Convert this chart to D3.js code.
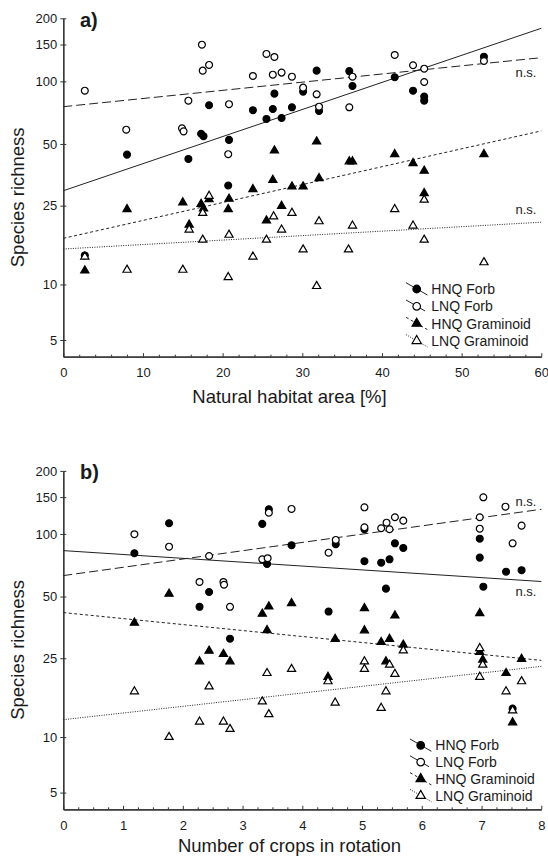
<!DOCTYPE html>
<meta charset="utf-8">
<style>
body { margin: 0; background: #fff; }
svg text { font-family: "Liberation Sans", Arial, sans-serif; fill: #1a1a1a; }
.axis path, .axis line { stroke: #333; }
</style>
<svg width="548" height="857"></svg>
<script src="https://d3js.org/d3.v7.min.js"></script>
<script>

var seriesNames = ["HNQ Forb", "LNQ Forb", "HNQ Graminoid", "LNQ Graminoid"];
var yTicks = [5, 10, 25, 50, 100, 150, 200];

// a) natural habitat area [%] vs species richness
var areaHnqForb = [[2.7,14.1],[8.0,44.4],[15.7,42.3],[17.3,56],[17.6,54.5],[18.3,76.8],[20.8,52.3],[20.7,31.4],[23.8,72.7],[25.5,66],[26.3,73.7],[26.5,87.3],[27.4,66.7],[28.7,75.1],[30.1,89.3],[32.1,72.1],[31.8,112.5],[35.9,112],[36.3,95],[41.6,104.6],[43.9,90.2],[45.3,84.5],[45.3,80.8],[52.8,131.2]];
var areaLnqForb = [[2.7,90.2],[7.9,58.6],[14.9,59.5],[15.1,57.5],[15.7,80.8],[17.4,149.7],[17.5,112.5],[18.3,119.8],[20.8,77.7],[20.7,44.6],[23.8,106.1],[25.5,135.2],[26.5,130.8],[26.3,107.6],[27.4,110.1],[28.7,105.3],[30.1,93.3],[31.8,86.7],[32.1,75.6],[36.3,105.3],[35.9,75.1],[41.6,133.7],[43.9,119.4],[45.3,115],[45.3,99.3],[52.8,125.1]];
var areaHnqGram = [[2.7,11.8],[8.0,24.0],[15.0,25.9],[15.8,20.1],[17.3,25.5],[17.6,24.2],[18.3,26.9],[20.8,27.0],[20.7,24.0],[23.8,30.1],[25.5,21.1],[26.3,33.4],[26.5,46.4],[27.4,24.9],[28.7,31.0],[30.1,31.0],[31.8,51.3],[32.1,34.1],[35.9,41.1],[36.3,41.1],[41.6,44.6],[43.9,40.3],[45.3,37.0],[45.3,28.8],[52.8,44.6]];
var areaLnqGram = [[2.7,13.9],[8.0,11.9],[15.0,11.9],[15.8,19.0],[17.5,23.0],[17.5,16.9],[18.3,27.9],[20.8,17.9],[20.7,10.9],[23.8,13.9],[25.5,16.9],[26.4,22.1],[27.4,19.0],[28.7,23.0],[30.1,15.1],[32.1,20.9],[31.8,9.8],[35.8,15.1],[36.3,19.9],[41.6,24.0],[43.9,19.9],[45.3,26.7],[45.3,16.9],[52.8,13.0]];
// fitted lines: [x0, y0, x1, y1]
var areaFits = [[0,29.6,60,179.3],[0,75.6,60,129.8],[0,17.2,60,57.8],[0,15.2,60,20.7]];
var areaNs = [110.7, 23.9];

// b) number of crops in rotation vs species richness
var cropHnqForb = [[1.19,80.8],[1.77,112.5],[2.28,44.6],[2.44,52.6],[2.79,31.2],[3.33,111.7],[3.44,131.2],[3.41,71.8],[3.82,88.3],[4.56,89.3],[4.44,42.3],[5.04,74],[5.04,105.3],[5.32,72.8],[5.46,75.6],[5.55,90.2],[5.69,85.7],[5.40,54.6],[6.97,94.9],[6.97,77.0],[7.03,55.8],[7.41,65.9],[7.67,67],[7.52,14.0]];
var cropLnqForb = [[1.19,99.7],[1.77,86.9],[2.28,58.8],[2.44,78.4],[2.68,58.8],[2.69,57],[2.79,44.6],[3.33,75.6],[3.44,126.4],[3.42,76.5],[3.82,131.7],[4.56,93.6],[4.44,81.3],[5.04,134.1],[5.04,107.6],[5.32,106.5],[5.41,113.2],[5.46,105.3],[5.55,120.2],[5.69,115.8],[7.03,149.7],[6.97,120.2],[6.97,106],[7.40,135],[7.67,109.6],[7.52,90.2]];
var cropHnqGram = [[1.19,37.3],[1.77,51.5],[2.28,24.1],[2.44,27.2],[2.68,26.2],[2.79,24.1],[3.33,41.2],[3.44,44.7],[3.41,34.3],[3.82,46.4],[4.55,31.1],[4.43,20.2],[5.04,43.9],[5.04,34.2],[5.32,30.0],[5.46,31.1],[5.55,40.4],[5.40,24.1],[5.69,29.1],[6.97,41.5],[6.97,26.8],[7.02,24.6],[7.41,21.1],[7.67,24.8],[7.52,11.9]];
var cropLnqGram = [[1.19,17.1],[1.77,10.0],[2.28,12.0],[2.44,18.1],[2.68,12.0],[2.79,11.0],[3.33,15.2],[3.41,21.1],[3.44,13.1],[3.82,22.1],[4.55,15.0],[4.43,19.2],[5.04,24.1],[5.04,22.1],[5.46,23.2],[5.40,17.1],[5.32,14.1],[5.55,20.9],[5.69,27.3],[6.97,28.0],[7.02,23.2],[6.97,20.2],[7.41,17.1],[7.67,19.2],[7.52,13.7]];
var cropFits = [[0,83.2,8,59.1],[0,63.1,8,131.2],[0,41.8,8,24.4],[0,12.3,8,22.8]];
var cropNs = [143, 52.9];

var svg = d3.select("svg");

// marker + line look for each series
var look = [
  {shape: d3.symbolCircle, size: 37, fill: "#000", dash: null},
  {shape: d3.symbolCircle, size: 37, fill: "#fff", dash: "9,4"},
  {shape: d3.symbolTriangle, size: 29, fill: "#000", dash: "3,2.5"},
  {shape: d3.symbolTriangle, size: 29, fill: "#fff", dash: "1,1.4"}
];

function drawPanel(p) {
  var x = d3.scaleLinear().domain(p.xDomain).range([63.3, 541.3]);
  // y axis is log(y+1)
  var y = d3.scaleSymlog().constant(1).domain([4, 200]).range([p.top + 338.4, p.top]);
  var g = svg.append("g");

  // axes
  g.append("g").attr("class", "axis")
      .attr("transform", "translate(0," + y(4) + ")")
      .call(d3.axisBottom(x).tickValues(p.xMinor).tickSize(-2).tickSizeOuter(0).tickFormat(""));
  g.append("g").attr("class", "axis")
      .attr("transform", "translate(0," + y(4) + ")")
      .call(d3.axisBottom(x).tickValues(p.xMajor).tickSize(-3.5).tickSizeOuter(0).tickPadding(11))
      .selectAll("text").style("font-size", "13px");
  g.append("g").attr("class", "axis")
      .attr("transform", "translate(" + x(0) + ",0)")
      .call(d3.axisLeft(y).tickValues(yTicks).tickSize(-3).tickSizeOuter(0).tickFormat(""));
  g.append("g").attr("class", "axis")
      .attr("transform", "translate(" + x(0) + ",0)")
      .call(d3.axisLeft(y).tickValues(yTicks).tickSize(3).tickSizeOuter(0).tickPadding(3).tickFormat(d3.format("d")))
      .selectAll("text").style("font-size", "13px");
  g.selectAll(".axis .domain").attr("stroke-width", 1.2);

  // fitted lines
  g.selectAll("line.fit").data(p.fits).enter().append("line")
      .attr("class", "fit")
      .attr("x1", d => x(d[0])).attr("y1", d => y(d[1]))
      .attr("x2", d => x(d[2])).attr("y2", d => y(d[3]))
      .attr("stroke", "#222").attr("stroke-width", 1)
      .attr("stroke-dasharray", (d, i) => look[i].dash);

  // points
  p.series.forEach(function(s, i) {
    g.append("g").selectAll("path").data(s).enter().append("path")
        .attr("d", d3.symbol().type(look[i].shape).size(look[i].size))
        .attr("transform", d => "translate(" + x(d[0]) + "," + y(d[1]) + ")")
        .attr("fill", look[i].fill).attr("stroke", "#000").attr("stroke-width", 1.2);
  });

  // n.s. labels
  p.ns.forEach(function(v) {
    g.append("text").attr("x", 515.5).attr("y", y(v) + 4.5)
        .style("font-size", "13px").text("n.s.");
  });

  // panel letter
  g.append("text").attr("x", 80).attr("y", p.top + 8.5)
      .style("font-size", "20px").style("font-weight", "bold").text(p.letter);

  // axis titles
  g.append("text").attr("transform", "translate(23.5," + (p.top + 179) + ") rotate(-90)")
      .attr("text-anchor", "middle").style("font-size", "18.5px").text("Species richness");
  g.append("text").attr("x", 289.5).attr("y", y(4) + p.titleGap)
      .attr("text-anchor", "middle").style("font-size", "18.5px").text(p.xTitle);

  // legend
  var lg = g.append("g").attr("transform", "translate(" + p.legX + "," + p.legY + ")");
  seriesNames.forEach(function(name, i) {
    var row = lg.append("g").attr("transform", "translate(0," + i * p.legStep + ")");
    row.append("line").attr("x1", -10.7).attr("y1", -6.3).attr("x2", 10.7).attr("y2", 6)
        .attr("stroke", "#222").attr("stroke-width", 1).attr("stroke-dasharray", look[i].dash);
    row.append("path").attr("d", d3.symbol().type(look[i].shape).size(look[i].size + 8))
        .attr("fill", look[i].fill).attr("stroke", "#000").attr("stroke-width", 1.2);
    row.append("text").attr("x", 14.6).attr("y", 5).style("font-size", "14px").text(name);
  });
}

drawPanel({
  top: 18.3, letter: "a)", xTitle: "Natural habitat area [%]", titleGap: 46.6,
  xDomain: [0, 60], xMajor: d3.range(0, 61, 10),
  xMinor: d3.range(0, 61, 2).filter(v => v % 10),
  series: [areaHnqForb, areaLnqForb, areaHnqGram, areaLnqGram],
  fits: areaFits, ns: areaNs,
  legX: 416.7, legY: 289, legStep: 17.3
});

drawPanel({
  top: 470.9, letter: "b)", xTitle: "Number of crops in rotation", titleGap: 43,
  xDomain: [0, 8], xMajor: d3.range(0, 9, 1),
  xMinor: d3.range(0, 8.01, 0.25).filter(v => v % 1),
  series: [cropHnqForb, cropLnqForb, cropHnqGram, cropLnqGram],
  fits: cropFits, ns: cropNs,
  legX: 420.7, legY: 745.3, legStep: 16.8
});

</script>
